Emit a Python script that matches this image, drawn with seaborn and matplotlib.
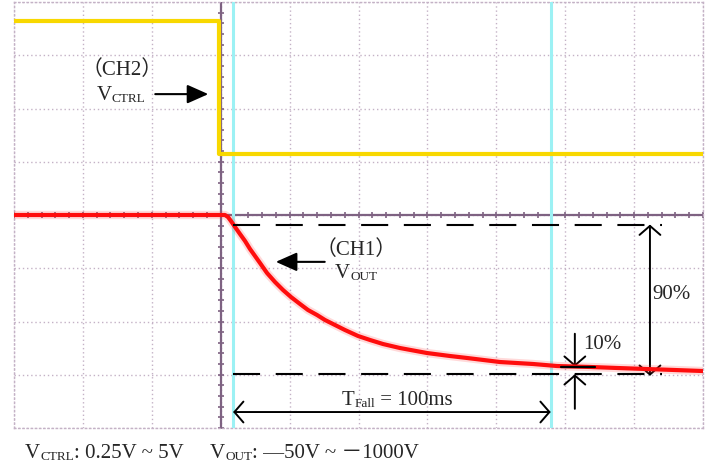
import numpy as np
import seaborn as sns

import matplotlib
matplotlib.use("Agg")

import matplotlib.pyplot as plt

# Scope traces in divisions (x: 0-10, y: 0-8)
ch2_t = [0, 2.98, 2.98, 10]
ch2_v = [7.64, 7.64, 5.15, 5.15]

ch1_t = [0, 3.0, 3.062, 3.106, 3.149, 3.208, 3.280, 3.353, 3.425, 3.498,
         3.570, 3.672, 3.788, 3.904, 4.020, 4.151, 4.267, 4.398, 4.514,
         4.630, 4.804, 4.993, 5.167, 5.356, 5.602, 5.994, 6.328, 6.575,
         7.054, 7.533, 7.881, 8.360, 8.752, 9.376, 10.0]
ch1_v = [4.0, 4.0, 4.0, 3.962, 3.887, 3.775, 3.643, 3.512, 3.362, 3.230,
         3.099, 2.911, 2.742, 2.592, 2.460, 2.329, 2.216, 2.122, 2.028,
         1.953, 1.840, 1.728, 1.653, 1.577, 1.502, 1.408, 1.352, 1.315,
         1.239, 1.202, 1.164, 1.146, 1.127, 1.099, 1.070]

# Cursors and measurement levels
cursor_t = [3.18, 7.79]
level_90 = 3.82
level_10 = 1.01
level_10_mark = 1.15

# Labels
ch2_label = "（CH2）"
ch1_label = "（CH1）"
fall_label = " = 100ms"
range_ctrl = ": 0.25V ~ 5V"
range_out = ": —50V ~ －1000V"

sns.set_style("white")
plt.rcParams["font.family"] = ["Liberation Serif", "Noto Sans CJK SC"]

fig = plt.figure(figsize=(7.11, 4.77), dpi=100)
ax = fig.add_axes([14 / 711, 48 / 477, 689 / 711, 426 / 477])
ax.set_xlim(0, 10)
ax.set_ylim(0, 8)

# Dotted graticule
grid_col = "#c4b2c6"
ax.set_xticks(range(11))
ax.set_yticks(range(9))
ax.grid(True, color=grid_col, linestyle=(0, (1, 2)), lw=1.0)
ax.tick_params(length=0, labelbottom=False, labelleft=False)
for sp in ax.spines.values():
    sp.set_color(grid_col)
    sp.set_linestyle((0, (1, 2)))
    sp.set_linewidth(1.0)

# Center axes with small ticks
axis_col = "#7e6282"
ax.axvline(3, color=axis_col, lw=1.6, zorder=2)
ax.axhline(4, color=axis_col, lw=1.6, zorder=2)
ax.plot(np.arange(0, 10.01, 0.2), np.full(51, 4.0), ls="none", marker="|",
        ms=4, mew=1.2, color=axis_col, zorder=2)
ax.plot(np.full(41, 3.0), np.arange(0, 8.01, 0.2), ls="none", marker="_",
        ms=4, mew=1.2, color=axis_col, zorder=2)

# Time cursors
for t in cursor_t:
    ax.axvline(t, color="#9cf1f4", lw=2.2, zorder=3)

# Traces
sns.lineplot(x=ch2_t, y=ch2_v, ax=ax, color="#f8d800", lw=3, sort=False,
             estimator=None, zorder=4)
sns.lineplot(x=ch1_t, y=ch1_v, ax=ax, color="#ff3030", lw=6, alpha=0.18,
             sort=False, estimator=None, zorder=4)
sns.lineplot(x=ch1_t, y=ch1_v, ax=ax, color="#ff0d0d", lw=3, sort=False,
             estimator=None, zorder=5)

# 90% / 10% level lines
dash = dict(color="black", lw=1.5, ls=(0, (13, 7.5)), zorder=6)
ax.plot([cursor_t[0], 9.40], [level_90, level_90], **dash)
ax.plot([cursor_t[0], 9.40], [level_10, level_10], **dash)

big = 15
small = 9.5


def sub_text(x, y, base, sub, rest="", transform=None):
    t = ax.text(x, y, base, fontsize=big, ha="left", va="baseline",
                transform=transform or ax.transData, zorder=7)
    s = ax.annotate(sub, xy=(1, 0), xycoords=t, fontsize=small,
                    ha="left", va="bottom", zorder=7)
    if rest:
        ax.annotate(rest, xy=(1, 0), xycoords=(s, t), fontsize=big,
                    ha="left", va="bottom", zorder=7)


open_head = "<->,head_length=0.65,head_width=0.75"
arr = dict(color="black", lw=1.4, shrinkA=0, shrinkB=0, mutation_scale=10)
solid = dict(arrowstyle="-|>,head_length=0.72,head_width=0.32", color="black",
             lw=1.5, shrinkA=0, shrinkB=0, mutation_scale=18)

# CH2 label
ax.text(1.57, 6.74, ch2_label, fontsize=big, ha="center", va="center")
sub_text(1.20, 6.18, "V", "CTRL")
ax.annotate("", xy=(2.82, 6.27), xytext=(2.05, 6.27), arrowprops=solid)

# CH1 label
ax.text(4.97, 3.36, ch1_label, fontsize=big, ha="center", va="center")
sub_text(4.66, 2.84, "V", "OUT")
ax.annotate("", xy=(3.80, 3.12), xytext=(4.51, 3.12), arrowprops=solid)

# 90% span
ax.annotate("", xy=(9.23, level_10 - 0.03), xytext=(9.23, level_90),
            arrowprops=dict(arrowstyle=open_head, **arr))
ax.text(9.26, 2.52, "90%", fontsize=big, ha="left", va="center", zorder=7)

# 10% marker
ax.plot([7.94, 8.43], [level_10_mark, level_10_mark], color="black", lw=1.6,
        zorder=6)
ax.annotate("", xy=(8.14, level_10_mark), xytext=(8.14, 1.77),
            arrowprops=dict(arrowstyle="->,head_length=0.65,head_width=0.75", **arr))
ax.annotate("", xy=(8.14, level_10), xytext=(8.14, 0.36),
            arrowprops=dict(arrowstyle="->,head_length=0.65,head_width=0.75", **arr))
ax.text(8.26, 1.58, "10%", fontsize=big, ha="left", va="center", zorder=7)

# Fall time
ax.annotate("", xy=(cursor_t[1], 0.30), xytext=(cursor_t[0], 0.30),
            arrowprops=dict(arrowstyle=open_head, **arr))
sub_text(4.76, 0.45, "T", "Fall", fall_label)

# Ranges under the screen
sub_text(25 / 711, 19 / 477, "V", "CTRL", range_ctrl, transform=fig.transFigure)
sub_text(210 / 711, 19 / 477, "V", "OUT", range_out, transform=fig.transFigure)

fig.savefig("out.png", dpi=100)
